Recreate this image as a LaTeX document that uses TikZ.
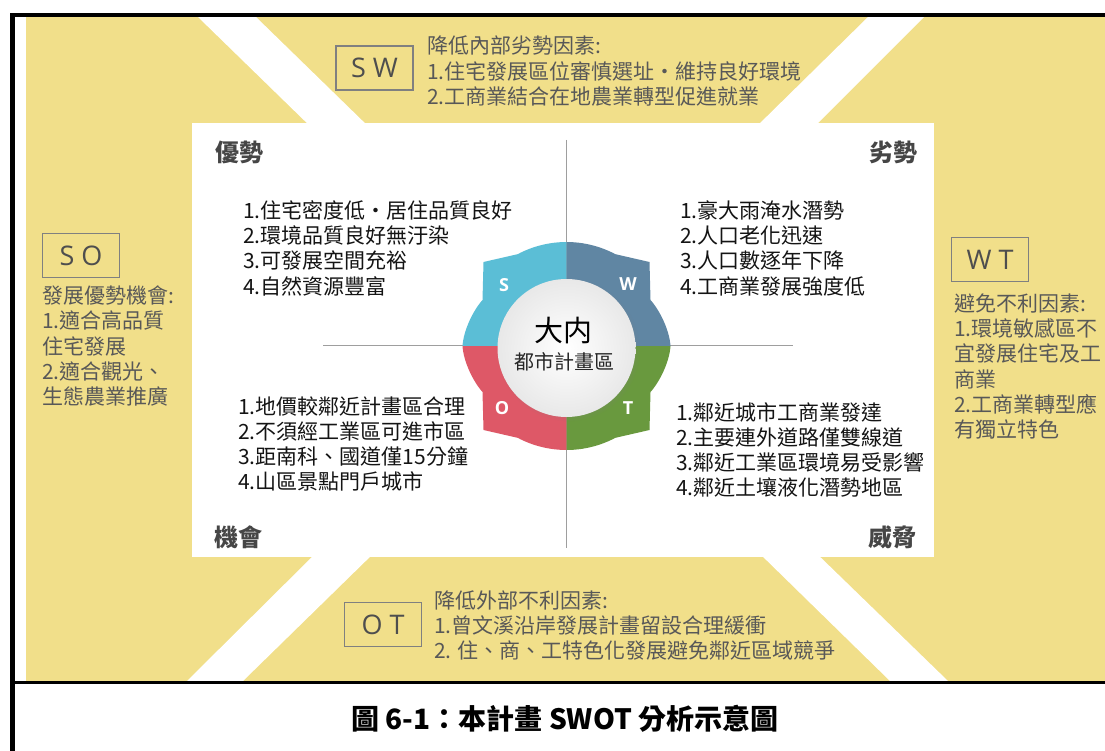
\documentclass[tikz,border=0pt]{standalone}
\usepackage{fontspec}
\setmainfont{Noto Sans CJK TC}
\newfontfamily\latinsans{Open Sans}
\usetikzlibrary{shadows}
\definecolor{bgyellow}{RGB}{241,223,138}
\definecolor{txtgray}{RGB}{88,88,88}
\definecolor{labgray}{RGB}{78,78,78}
\definecolor{boxgray}{RGB}{128,128,128}
\definecolor{ttlgray}{RGB}{70,70,70}
\definecolor{listblack}{RGB}{20,20,20}
\definecolor{segS}{RGB}{91,190,214}
\definecolor{segW}{RGB}{96,134,163}
\definecolor{segO}{RGB}{222,88,103}
\definecolor{segT}{RGB}{105,153,62}
\newcommand\swotpiece[1]{\fill[#1] (0,0) -- (0,104) -- plot[domain=90:118,samples=14,variable=\t] (\t:104) -- (-83,84) -- (-84,46) .. controls (-93,36) and (-103,16) .. (-104,0) -- cycle;}
\newcommand\tccomma{\makebox[1em][c]{·}}
\begin{document}
\begin{tikzpicture}[x=1pt,y=-1pt,
  graytext/.style={font=\fontsize{21}{25}\selectfont, text=txtgray, inner sep=0pt, anchor=west},
  listtext/.style={font=\fontsize{21}{25}\selectfont, text=listblack, inner sep=0pt, anchor=west},
  boxlabel/.style={draw=boxgray, line width=1.4pt, minimum width=77pt, minimum height=44pt, inner sep=0pt, font=\latinsans\fontsize{27}{27}\selectfont, text=labgray},
  quadtitle/.style={font=\bfseries\fontsize{24}{24}\selectfont, text=ttlgray, inner sep=0pt},
  segletter/.style={font=\latinsans\bfseries\fontsize{18}{18}\selectfont, text=white, inner sep=0pt},
  divline/.style={draw=black!38, line width=1.6pt}
]
\useasboundingbox (0,0) rectangle (1105,751);
\fill[white] (0,0) rectangle (1105,751);
% yellow background
\fill[bgyellow] (26,17) rectangle (1105,681);
% white diagonal stripes
\fill[white] (198,17) -- (256,17) -- (372,130) -- (314,130) -- cycle;
\fill[white] (868,17) -- (924,17) -- (811,130) -- (753,130) -- cycle;
\fill[white] (319,550) -- (377,550) -- (243,681) -- (187,681) -- cycle;
\fill[white] (756,550) -- (813,550) -- (948,681) -- (890,681) -- cycle;
% central white panel
\fill[white] (192,123) rectangle (934,557);
% black frame lines
\fill[black] (10,13) rectangle (1105,17);
\fill[black] (10,13) rectangle (15,751);
\fill[black] (10,681) rectangle (1105,684);

% divider lines
\coordinate (vt) at (566.5,140);
\coordinate (vb) at (566.5,548);
\coordinate (hl) at (323,345.5);
\coordinate (hr) at (793,345.5);
\draw[divline] (vt) -- (vb);
\draw[divline] (hl) -- (hr);

% ring
\begin{scope}[shift={(566.5,346)}, yscale=-1]
  \swotpiece{segS}
  \begin{scope}[xscale=-1]\swotpiece{segW}\end{scope}
  \begin{scope}[yscale=-1]\swotpiece{segO}\end{scope}
  \begin{scope}[xscale=-1,yscale=-1]\swotpiece{segT}\end{scope}
\end{scope}
\node[segletter] (lS) at (504,285) {S};
\node[segletter] (lW) at (628,284) {W};
\node[segletter] (lO) at (502,408) {O};
\node[segletter] (lT) at (628,408) {T};
% centre disc
\node[circle, minimum size=138pt, inner sep=0pt, inner color=white, outer color=black!9,
      circular drop shadow={opacity=0.3, shadow scale=1.04}] (core) at (566.5,348) {};
\node[font=\fontsize{29}{29}\selectfont, text=black, inner sep=0pt] (cname) at (563.5,331) {大内};
\node[font=\fontsize{20}{20}\selectfont, text=black!85, inner sep=0pt] (csub) at (564,362) {都市計畫區};

% quadrant titles
\node[quadtitle] (tS) at (239,152) {優勢};
\node[quadtitle] (tW) at (893,152) {劣勢};
\node[quadtitle] (tO) at (238,537) {機會};
\node[quadtitle] (tT) at (892,537) {威脅};

% lists
\foreach \t [count=\i] in {1.住宅密度低\tccomma 居住品質良好, 2.環境品質良好無汙染, 3.可發展空間充裕, 4.自然資源豐富}
  \node[listtext] (s\i) at (243,{210.5+25.2*(\i-1)}) {\t};
\foreach \t [count=\i] in {1.豪大雨淹水潛勢, 2.人口老化迅速, 3.人口數逐年下降, 4.工商業發展強度低}
  \node[listtext] (w\i) at (680,{210.5+25.2*(\i-1)}) {\t};
\foreach \t [count=\i] in {1.地價較鄰近計畫區合理, 2.不須經工業區可進市區, 3.距南科、國道僅15分鐘, 4.山區景點門戶城市}
  \node[listtext] (o\i) at (238,{406.5+25.1*(\i-1)}) {\t};
\foreach \t [count=\i] in {1.鄰近城市工商業發達, 2.主要連外道路僅雙線道, 3.鄰近工業區環境易受影響, 4.鄰近土壤液化潛勢地區}
  \node[listtext] (th\i) at (676,{412+25.1*(\i-1)}) {\t};

% strategy boxes
\node[boxlabel] (bSW) at (374.5,68) {S W};
\foreach \t [count=\i] in {降低內部劣勢因素:, 1.住宅發展區位審慎選址\tccomma 維持良好環境, 2.工商業結合在地農業轉型促進就業}
  \node[graytext] (sw\i) at (427,{45+26*(\i-1)}) {\t};

\node[boxlabel] (bSO) at (81,255.5) {S O};
\foreach \t [count=\i] in {發展優勢機會:, 1.適合高品質, 住宅發展, 2.適合觀光、, 生態農業推廣}
  \node[graytext] (so\i) at (42,{295.5+25.3*(\i-1)}) {\t};

\node[boxlabel] (bWT) at (990,259.5) {W T};
\foreach \t [count=\i] in {避免不利因素:, 1.環境敏感區不, 宜發展住宅及工, 商業, 2.工商業轉型應, 有獨立特色}
  \node[graytext] (wt\i) at (954,{303.5+25.2*(\i-1)}) {\t};

\node[boxlabel] (bOT) at (383,624.5) {O T};
\foreach \t [count=\i] in {降低外部不利因素:, 1.曾文溪沿岸發展計畫留設合理緩衝, 2. 住、商、工特色化發展避免鄰近區域競爭}
  \node[graytext] (ot\i) at (434,{600+25.5*(\i-1)}) {\t};

% caption
\node[font=\bfseries\fontsize{28}{28}\selectfont, text=black, inner sep=0pt] (cap) at (565,719) {圖 6-1：本計畫 SWOT 分析示意圖};
\end{tikzpicture}
\end{document}
